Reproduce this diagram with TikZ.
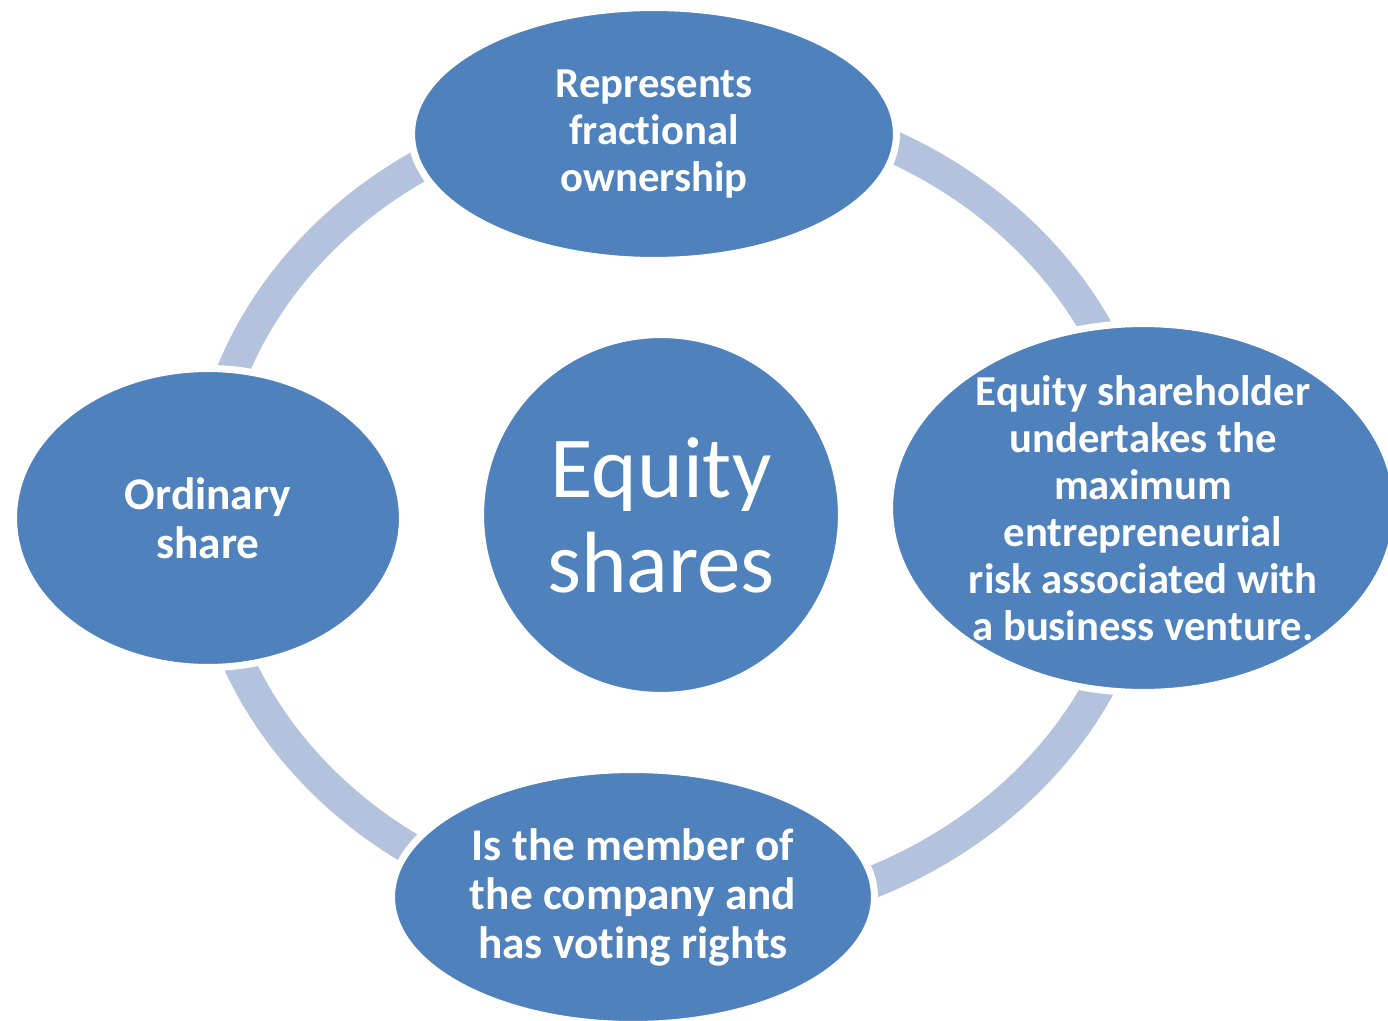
\documentclass[tikz,border=0pt]{standalone}
\usepackage{fontspec}
\setmainfont{Carlito}[Ligatures=NoCommon]
\usepackage{tikz}
\usetikzlibrary{shapes,positioning}
\definecolor{CycleBlue}{HTML}{4F81BD}
\definecolor{CycleRing}{HTML}{B3C2DD}
\tikzset{
    % Base node style
    basenode/.style={
        ellipse,
        fill=CycleBlue,
        draw=white,
        line width=4pt,
        inner sep=-2cm,
        text=white,
        align=center,
        font=\fontsize{24.3}{26.7}\selectfont\bfseries
    },
    % Larger text for the short labels
    bignode/.style={
        basenode,
        font=\fontsize{25.8}{27.9}\selectfont\bfseries
    },
    % Hub node in the middle
    hubnode/.style={
        basenode,
        circle,
        minimum size=7.22cm,
        font=\fontsize{49.5}{54}\selectfont
    },
    % Ring joining the outer nodes
    cyclering/.style={
        draw=CycleRing,
        line width=0.64cm
    }
}
\begin{document}
\begin{tikzpicture}[x=0.02cm, y=-0.02cm]
        \useasboundingbox (0,0) rectangle (1388,1020);

        % Ring behind everything
        \coordinate (ringc) at (675,510);
        \draw[cyclering] (ringc) ellipse [x radius=470, y radius=410];

        % Hub
        \node[hubnode] (hub) at (661,515) {Equity\\shares};

        % Outer nodes
        \node[basenode, minimum width=9.7cm, minimum height=5.06cm] (own) at (654,134) {Represents\\fractional\\ownership};
        \node[basenode, minimum width=10.14cm, minimum height=7.38cm] (risk) at (1143,508) {Equity shareholder\\undertakes the\\maximum\\entrepreneurial\\risk associated with\\a business venture.};
        \node[bignode, minimum width=9.66cm, minimum height=5.1cm] (vote) at (633,897) {Is the member of\\the company and\\has voting rights};
        \node[bignode, minimum width=7.78cm, minimum height=5.98cm] (ord) at (208,518) {Ordinary\\share};
    \end{tikzpicture}
\end{document}
